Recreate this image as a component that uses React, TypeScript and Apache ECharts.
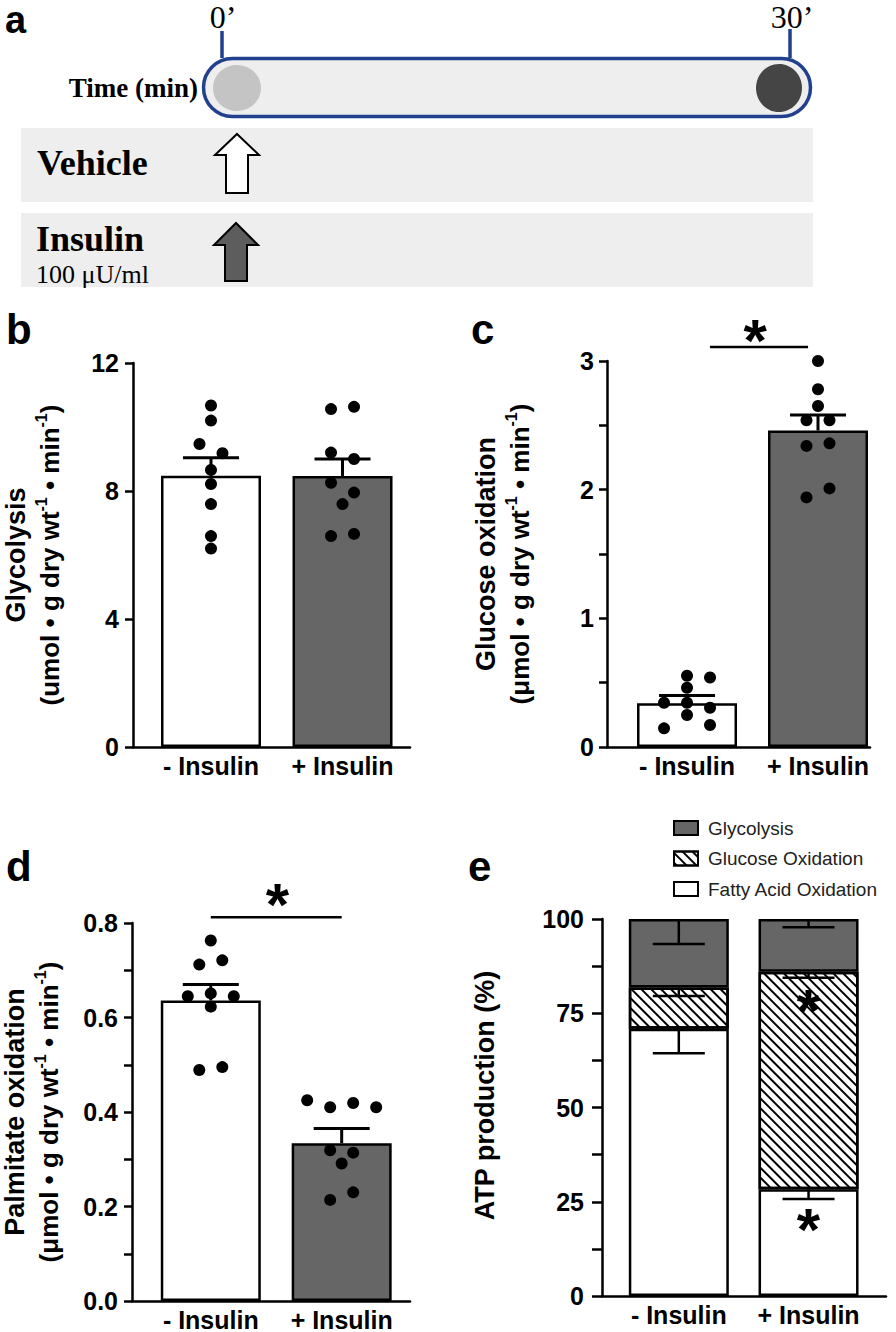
import React, { useEffect, useRef } from 'react';
import * as echarts from 'echarts';

// ---------- data ----------
const groups = ['- Insulin', '+ Insulin'];
const barColors = ['#ffffff', '#666666'];

// b: Glycolysis
const glyMeans = [8.48, 8.47];
const glySem = [0.56, 0.53];
const glyDotsMinus = [10.67, 10.2, 9.47, 9.18, 8.66, 8.22, 7.59, 6.59, 6.2];
const glyColsMinus = [0, 0, -1, 1, 0, 0, 0, 0, 0];
const glyDotsPlus = [10.56, 10.63, 9.2, 9.0, 8.26, 7.95, 7.59, 6.59, 6.66];
const glyColsPlus = [-1, 1, -1, 1, -1, 1, 0, -1, 1];

// c: Glucose oxidation
const goxMeans = [0.34, 2.46];
const goxSem = [0.06, 0.12];
const goxDotsMinus = [0.554, 0.54, 0.46, 0.344, 0.344, 0.305, 0.249, 0.145, 0.171];
const goxColsMinus = [0, 2, 0, -2, 0, 2, 0, -2, 2];
const goxDotsPlus = [3.0, 2.78, 2.65, 2.54, 2.54, 2.34, 2.36, 2.01, 1.94];
const goxColsPlus = [0, 0, 0, -1, 1, -1, 1, 1, -1];

// d: Palmitate oxidation
const palMeans = [0.636, 0.334];
const palSem = [0.034, 0.031];
const palDotsMinus = [0.763, 0.712, 0.721, 0.645, 0.651, 0.645, 0.623, 0.489, 0.495];
const palColsMinus = [0, -1, 1, -2, 0, 2, 0, -1, 1];
const palDotsPlus = [0.425, 0.41, 0.419, 0.41, 0.319, 0.314, 0.291, 0.214, 0.23];
const palColsPlus = [-3, -1, 1, 3, -1, 1, 0, -1, 1];

// e: ATP production (%)
const atpNames = ['Fatty Acid Oxidation', 'Glucose Oxidation', 'Glycolysis'];
const atpLegendOrder = ['Glycolysis', 'Glucose Oxidation', 'Fatty Acid Oxidation'];
const atpFao = [70.9, 28.3];
const atpFaoSem = [6.5, 2.6];
const atpGo = [10.9, 57.7];
const atpGoSem = [2.2, 1.6];
const atpGly = [18.2, 14.0];
const atpGlySem = [6.6, 2.2];

// axis titles
const titleB = '{t|Glycolysis}\n{u|(umol • g dry wt}{s|-1}{u| • min}{s|-1}{u|)}';
const titleC = '{t|Glucose oxidation}\n{u|(μmol • g dry wt}{s|-1}{u| • min}{s|-1}{u|)}';
const titleD = '{t|Palmitate oxidation}\n{u|(μmol • g dry wt}{s|-1}{u| • min}{s|-1}{u|)}';
const titleE = '{t|ATP production (%)}';

// panel a texts
const timeLabels = ['0\u2019', '30\u2019'];
const timeAxisLabel = 'Time (min)';
const rowLabels = ['Vehicle', 'Insulin'];
const insulinDose = '100 μU/ml';
const panelLetters = ['a', 'b', 'c', 'd', 'e'];

// ---------- styling ----------
const FONT = "'Liberation Sans', Arial, Helvetica, sans-serif";
const SERIF = "'Liberation Serif', 'Times New Roman', serif";
const NAVY = '#21408d';
const STEP = 11.5;

const richTitle = {
  t: { fontFamily: FONT, fontWeight: 'bold', fontSize: 27, lineHeight: 34, color: '#000' },
  u: { fontFamily: FONT, fontWeight: 'bold', fontSize: 26, lineHeight: 34, color: '#000' },
  s: { fontFamily: FONT, fontWeight: 'bold', fontSize: 16, lineHeight: 18, verticalAlign: 'top', color: '#000' },
};

function yAxis(grid: number, min: number, max: number, interval: number, fmt: any, name: string, nameGap: number, tickLen: number, margin: number, namePad: number[] = [0, 0, 0, 0]) {
  return {
    type: 'value', gridIndex: grid, min, max, interval,
    axisLine: { show: true, onZero: false, lineStyle: { color: '#000', width: 2.5 } },
    axisTick: { show: true, length: tickLen, lineStyle: { color: '#000', width: 2.5 } },
    axisLabel: { formatter: fmt, fontSize: 25, fontWeight: 'bold', color: '#000', fontFamily: FONT, margin },
    splitLine: { show: false },
    name, nameLocation: 'middle', nameGap,
    nameTextStyle: { fontFamily: FONT, fontWeight: 'bold', color: '#000', rich: richTitle, padding: namePad },
  };
}

function xAxis(grid: number, min: number, max: number) {
  return {
    type: 'value', gridIndex: grid, min, max,
    axisLine: { show: true, onZero: false, lineStyle: { color: '#000', width: 2.5 } },
    axisTick: { show: false },
    splitLine: { show: false },
    axisLabel: {
      customValues: [0, 1],
      formatter: (v: number) => groups[Math.round(v)] ?? '',
      fontSize: 25, fontWeight: 'bold', color: '#000', fontFamily: FONT, margin: 6,
    },
  };
}

function errItem(dir: number, cap: number, lw: number) {
  return (params: any, api: any) => {
    const x = api.value(0), m = api.value(1), s = api.value(2);
    const a = api.coord([x, m]);
    const b = api.coord([x, m + dir * s]);
    const st = { stroke: '#000', lineWidth: lw };
    return {
      type: 'group',
      children: [
        { type: 'line', shape: { x1: a[0], y1: a[1], x2: b[0], y2: b[1] }, style: st },
        { type: 'line', shape: { x1: b[0] - cap, y1: b[1], x2: b[0] + cap, y2: b[1] }, style: st },
      ],
    };
  };
}

function barSeries(grid: number, means: number[]) {
  return {
    type: 'bar', xAxisIndex: grid, yAxisIndex: grid, barWidth: 100, z: 2,
    itemStyle: { borderColor: '#000', borderWidth: 2.5 },
    data: means.map((v, i) => ({ value: [i, v], itemStyle: { color: barColors[i] } })),
  };
}

function errSeries(grid: number, means: number[], sems: number[], dir = 1, cap = 28, lw = 3) {
  return {
    type: 'custom', xAxisIndex: grid, yAxisIndex: grid, z: 5, clip: false,
    dimensions: ['x', 'y', 'sem'], encode: { x: 'x', y: 'y' },
    renderItem: errItem(dir, cap, lw),
    data: means.map((v, i) => [i, v, sems[i]]),
  };
}

function dotSeries(grid: number, group: number, vals: number[], cols: number[]) {
  return {
    type: 'scatter', xAxisIndex: grid, yAxisIndex: grid, z: 4, symbol: 'circle', symbolSize: 12,
    itemStyle: { color: '#000', opacity: 1 },
    data: vals.map((v, k) => ({ value: [group, v], symbolOffset: [cols[k] * STEP, 0] })),
  };
}

const hatch = {
  symbol: 'rect', symbolSize: 1, dashArrayX: [1, 0], dashArrayY: [1.6, 4.1],
  rotation: Math.PI / 4, color: '#000', backgroundColor: '#ffffff',
};

function buildOption() {
  const faoTop = atpFao;
  const goTop = atpFao.map((v, i) => v + atpGo[i]);
  const glyTop = goTop.map((v, i) => v + atpGly[i]);
  // value first, group second, so that the stack runs along the y axis
  const atpBar = (name: string, vals: number[], color: string, decal?: any) => ({
    type: 'bar', name, xAxisIndex: 3, yAxisIndex: 3, stack: 'atp', barWidth: 100, z: 2,
    encode: { x: 1, y: 0 },
    itemStyle: { color, borderColor: '#000', borderWidth: 2.5, ...(decal ? { decal } : {}) },
    data: vals.map((v, i) => [v, i]),
  });
  return {
    animation: false,
    backgroundColor: '#ffffff',
    textStyle: { fontFamily: FONT },
    grid: [
      { left: 133, top: 363, width: 277, height: 384 },
      { left: 607, top: 361, width: 263, height: 386 },
      { left: 132, top: 923, width: 278, height: 381 },
      { left: 602, top: 919, width: 284, height: 377 },
    ],
    xAxis: [
      xAxis(0, -0.593, 1.513),
      xAxis(1, -0.611, 1.397),
      xAxis(2, -0.602, 1.522),
      xAxis(3, -0.592, 1.597),
    ],
    yAxis: [
      yAxis(0, 0, 12, 4, (v: number) => String(v), titleB, 66, 8, 14),
      yAxis(1, 0, 3, 0.5, (v: number) => (Math.abs(v - Math.round(v)) < 1e-6 ? String(Math.round(v)) : ''), titleC, 70, 8, 13),
      yAxis(2, 0, 0.8, 0.1, (v: number) => { const k = Math.round(v * 10); return k % 2 === 0 ? (k / 10).toFixed(1) : ''; }, titleD, 66, 8, 14),
      yAxis(3, 0, 100, 12.5, (v: number) => (Math.round(v * 2) % 50 === 0 ? String(Math.round(v)) : ''), titleE, 100, 10, 18, [0, 0, 0, 24]),
    ],
    legend: {
      orient: 'vertical', left: 673, top: 818, padding: 0, icon: 'rect',
      itemWidth: 24, itemHeight: 14, itemGap: 10.5, selectedMode: false,
      data: atpLegendOrder,
      textStyle: { fontFamily: FONT, fontSize: 19, color: '#222', lineHeight: 20, padding: [0, 0, 0, 5] },
    },
    series: [
      barSeries(0, glyMeans),
      errSeries(0, glyMeans, glySem),
      dotSeries(0, 0, glyDotsMinus, glyColsMinus),
      dotSeries(0, 1, glyDotsPlus, glyColsPlus),

      barSeries(1, goxMeans),
      errSeries(1, goxMeans, goxSem),
      dotSeries(1, 0, goxDotsMinus, goxColsMinus),
      dotSeries(1, 1, goxDotsPlus, goxColsPlus),

      barSeries(2, palMeans),
      errSeries(2, palMeans, palSem),
      dotSeries(2, 0, palDotsMinus, palColsMinus),
      dotSeries(2, 1, palDotsPlus, palColsPlus),

      atpBar(atpNames[0], atpFao, '#ffffff'),
      atpBar(atpNames[1], atpGo, '#ffffff', hatch),
      atpBar(atpNames[2], atpGly, '#666666'),
      errSeries(3, faoTop, atpFaoSem, -1, 26, 2.5),
      errSeries(3, goTop, atpGoSem, -1, 26, 2.5),
      errSeries(3, glyTop, atpGlySem, -1, 26, 2.5),
    ],
  };
}

function panelAGraphics() {
  const lineStyle = { stroke: NAVY, lineWidth: 3.5 };
  return [
    { type: 'rect', shape: { x: 21, y: 128, width: 792, height: 74 }, style: { fill: '#eeeeee' }, z: 1 },
    { type: 'rect', shape: { x: 21, y: 213, width: 792, height: 74 }, style: { fill: '#eeeeee' }, z: 1 },
    { type: 'line', shape: { x1: 222, y1: 31, x2: 222, y2: 58 }, style: lineStyle, z: 2 },
    { type: 'line', shape: { x1: 790, y1: 29, x2: 790, y2: 58 }, style: lineStyle, z: 2 },
    { type: 'rect', shape: { x: 203.5, y: 58.5, width: 607, height: 58, r: 29 }, style: { fill: '#eeeeee', stroke: NAVY, lineWidth: 3.5 }, z: 3 },
    { type: 'ellipse', shape: { cx: 237, cy: 88, rx: 24, ry: 23 }, style: { fill: '#c4c4c4' }, z: 4 },
    { type: 'ellipse', shape: { cx: 779, cy: 88, rx: 23, ry: 24 }, style: { fill: '#454545' }, z: 4 },
    {
      type: 'polygon', z: 4,
      shape: { points: [[237, 134], [259, 155], [248, 155], [248, 193], [226, 193], [226, 155], [215, 155]] },
      style: { fill: '#ffffff', stroke: '#000', lineWidth: 2 },
    },
    {
      type: 'polygon', z: 4,
      shape: { points: [[236, 223], [258, 245], [247, 245], [247, 281], [225, 281], [225, 245], [214, 245]] },
      style: { fill: '#5d5d5d', stroke: '#000', lineWidth: 2 },
    },
    { type: 'text', z: 5, style: { x: 223, y: 17, text: timeLabels[0], fontFamily: SERIF, fontSize: 32, fill: '#000', align: 'center', verticalAlign: 'middle' } },
    { type: 'text', z: 5, style: { x: 792, y: 17, text: timeLabels[1], fontFamily: SERIF, fontSize: 32, fill: '#000', align: 'center', verticalAlign: 'middle' } },
    { type: 'text', z: 5, style: { x: 198, y: 88, text: timeAxisLabel, fontFamily: SERIF, fontWeight: 'bold', fontSize: 27, fill: '#000', align: 'right', verticalAlign: 'middle' } },
    { type: 'text', z: 5, style: { x: 37, y: 163, text: rowLabels[0], fontFamily: SERIF, fontWeight: 'bold', fontSize: 36, fill: '#000', align: 'left', verticalAlign: 'middle' } },
    { type: 'text', z: 5, style: { x: 36, y: 239, text: rowLabels[1], fontFamily: SERIF, fontWeight: 'bold', fontSize: 36, fill: '#000', align: 'left', verticalAlign: 'middle' } },
    { type: 'text', z: 5, style: { x: 36, y: 274, text: insulinDose, fontFamily: SERIF, fontSize: 26, fill: '#000', align: 'left', verticalAlign: 'middle' } },
  ];
}

function letterGraphics() {
  const pos = [[5, 19.5], [6, 329], [471, 329], [6, 866], [468, 866]];
  const sizes = [38, 42, 42, 42, 42];
  return panelLetters.map((l, i) => ({
    type: 'text', z: 10,
    style: { x: pos[i][0], y: pos[i][1], text: l, fontFamily: FONT, fontWeight: 'bold', fontSize: sizes[i], fill: '#000', align: 'left', verticalAlign: 'middle' },
  }));
}

// annotations in data coordinates: [grid, x0, x1, y]
const sigLines = [[1, 0.175, 0.924, 3.108], [2, 0, 1, 0.812]];
// stars: [grid, x, y]
const stars = [[1, 0.52, 3.256], [2, 0.51, 0.865], [3, 1, 78.8], [3, 1, 20.7]];

export default function App() {
  const ref = useRef<HTMLDivElement>(null);
  useEffect(() => {
    document.body.style.margin = '0';
    const chart = echarts.init(ref.current!, null, { renderer: 'svg' });
    chart.setOption(buildOption() as any);
    const toPx = (g: number, x: number, y: number) => chart.convertToPixel({ gridIndex: g } as any, [x, y]) as number[];
    const ann: any[] = [];
    sigLines.forEach(([g, x0, x1, y]) => {
      const a = toPx(g, x0, y), b = toPx(g, x1, y);
      ann.push({ type: 'line', z: 10, shape: { x1: a[0], y1: a[1], x2: b[0], y2: b[1] }, style: { stroke: '#000', lineWidth: 2.5 } });
    });
    stars.forEach(([g, x, y]) => {
      const p = toPx(g, x, y);
      ann.push({ type: 'text', z: 10, style: { x: p[0], y: p[1] + 12, text: '*', fontFamily: FONT, fontWeight: 'bold', fontSize: 60, fill: '#000', align: 'center', verticalAlign: 'middle' } });
    });
    chart.setOption({ graphic: [...panelAGraphics(), ...letterGraphics(), ...ann] } as any);
    return () => chart.dispose();
  }, []);
  return <div ref={ref} style={{ position: 'absolute', left: 0, top: 0, width: 896, height: 1332 }} />;
}
